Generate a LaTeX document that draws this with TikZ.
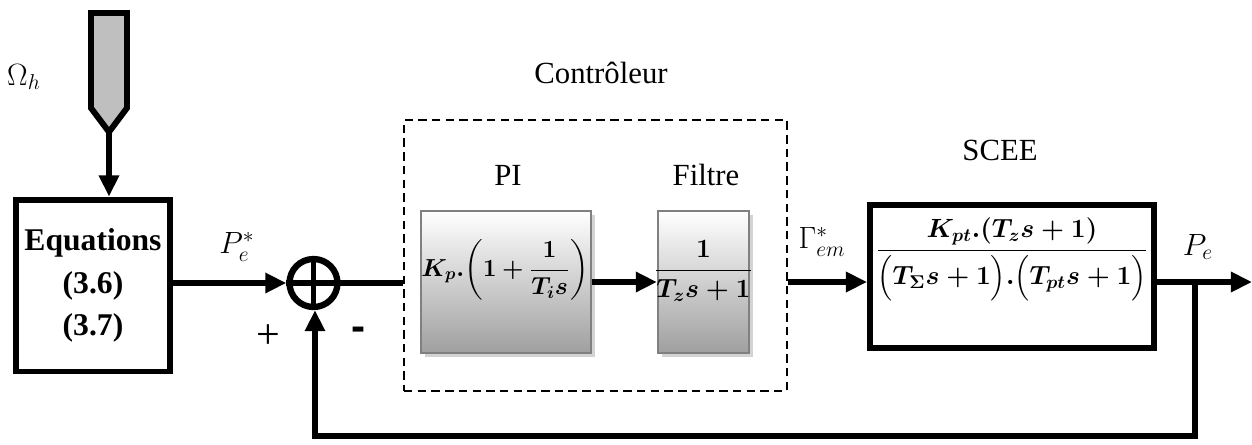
\RequirePackage{fix-cm}
\documentclass[tikz,border=0pt]{standalone}
\usepackage{amsmath}
\usepackage{bm}
\usepackage{fontspec}
\setmainfont{Liberation Serif}
\newfontfamily\signfont{Liberation Sans}
\usetikzlibrary{arrows.meta, shadows}

\begin{document}
\begin{tikzpicture}[
    x=0.02cm, y=-0.02cm,
    font=\fontsize{17.5}{20}\selectfont,
    sysblock/.style={rectangle, draw, line width=3.4pt, minimum height=2.86cm},
    simblock/.style={rectangle, draw=gray, line width=1.3pt, top color=white, bottom color=gray!75, minimum height=2.84cm, drop shadow={shadow xshift=2pt, shadow yshift=-2pt, opacity=0.35}},
    sumnode/.style={circle, draw, line width=3.6pt, minimum size=0.96cm, inner sep=0pt},
    dashbox/.style={rectangle, draw, line width=1.4pt, dash pattern=on 4.8pt off 3pt},
    tf/.style={font=\fontsize{15}{18}\selectfont},
    line/.style={draw, line width=3.2pt, -{Triangle[length=12pt,width=11pt]}},
    wire/.style={draw, line width=3.2pt}
]
\useasboundingbox (0,0) rectangle (1252,444);

% input
\draw [line width=3.4pt, fill=gray!50] (91,13) -- (127,13) -- (127,108) -- (109,132) -- (91,108) -- cycle;
\coordinate (tip) at (109,132);
\node (omega) at (24,77) {$\Omega_h$};

\node [sysblock, minimum width=3.1cm, minimum height=3.44cm, align=center, font=\fontsize{18}{24}\selectfont\bfseries] (eq) at (93,285.5) {Equations\\(3.6)\\(3.7)};
\node [sumnode] (sum) at (313.5,283) {};
\draw [line width=3.4pt] (sum.north) -- (sum.south) (sum.west) -- (sum.east);
\node [font=\fontsize{24}{24}\selectfont] (plus) at (268,337) {+};
\node [font=\fontsize{24}{24}\selectfont\signfont\bfseries] (minus) at (359,334) {-};
\node (pref) at (237,247) {$P_e^{*}$};

% controleur
\node [dashbox, minimum width=7.66cm, minimum height=5.42cm] (ctrl) at (595.5,255.5) {};
\node (ctrltitle) at (601,73) {Contrôleur};
\node [simblock, minimum width=3.4cm] (pi) at (506,282) {};
\node [tf, font=\fontsize{14}{17}\selectfont] (pitf) at (505,270) {$\displaystyle\bm{K_p.\!\left(1+\frac{1}{T_i s}\right)}$};
\node (pititle) at (508,175) {PI};
\node [simblock, minimum width=1.82cm] (filt) at (703.5,282) {};
\node [tf] (filttf) at (703.5,271) {$\displaystyle\bm{\frac{1}{T_z s+1}}$};
\node (filttitle) at (706,175) {Filtre};

% SCEE
\node [sysblock, minimum width=5.68cm] (scee) at (1012,276.5) {};
\node [tf] (sceetf) at (1012,260) {$\displaystyle\bm{\frac{K_{pt}.(T_z s+1)}{\Bigl(T_{\Sigma} s+1\Bigr).\Bigl(T_{pt} s+1\Bigr)}}$};
\node (sceetitle) at (1000,150) {SCEE};
\node (gref) at (822,242) {$\Gamma_{em}^{*}$};
\node (pout) at (1198,247) {$P_e$};

\coordinate (out) at (1252,282);
\coordinate (branch) at (1195,282);
\coordinate (fbcorner) at (315,436);

\path [line] (tip) -- (tip |- eq.north);
\path [line] (eq.east |- sum) -- (sum.west);
\path [wire] (sum.east) -- (ctrl.west |- sum.east);
\path [line] (pi.east) -- (filt.west);
\path [line] (ctrl.east |- filt) -- (scee.west |- filt);
\path [line] (scee.east |- filt) -- (out);
\path [line] (branch) |- (fbcorner) -- (fbcorner |- sum.south);

\end{tikzpicture}
\end{document}
